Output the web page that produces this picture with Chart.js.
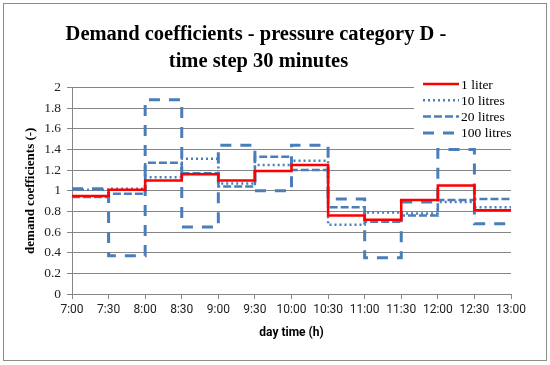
<!DOCTYPE html>
<html lang="en">

<head>
    <meta charset="UTF-8">
    <title>Demand coefficients</title>
    <script src="https://cdn.jsdelivr.net/npm/chart.js"></script>
    <style>
        body {
            margin: 0;
            background-color: #ffffff;
        }

        .chart-box {
            width: 550px;
            height: 365px;
            position: relative;
        }
    </style>
</head>

<body>

    <div class="chart-box">
        <canvas id="demandChart"></canvas>
    </div>

    <script>
        // half-hour steps, value holds until next label
        const timeLabels = ['7:00', '7:30', '8:00', '8:30', '9:00', '9:30', '10:00', '10:30', '11:00', '11:30', '12:00', '12:30', '13:00'];
        const liter1 = [0.95, 1.01, 1.10, 1.16, 1.10, 1.19, 1.25, 0.76, 0.72, 0.91, 1.05, 0.81];
        const litres10 = [1.01, 1.02, 1.13, 1.31, 1.07, 1.25, 1.29, 0.67, 0.79, 0.78, 0.89, 0.84];
        const litres20 = [0.94, 0.97, 1.27, 1.17, 1.04, 1.33, 1.20, 0.84, 0.70, 0.76, 0.91, 0.92];
        const litres100 = [1.02, 0.37, 1.88, 0.65, 1.44, 1.00, 1.44, 0.92, 0.35, 0.89, 1.40, 0.68];
        const seriesNames = ['1 liter', '10 litres', '20 litres', '100 litres'];

        const blue = '#4a7ebb';

        // repeat the last value so the final step reaches 13:00
        function stepData(arr) {
            return arr.concat([arr[arr.length - 1]]);
        }

        function makeSet(label, data, color, width, dash) {
            return {
                label: label,
                data: stepData(data),
                borderColor: color,
                borderWidth: width,
                borderDash: dash,
                borderCapStyle: 'butt',
                stepped: true,
                pointRadius: 0,
                fill: false
            };
        }

        const frame = {
            id: 'frame',
            afterDraw(chart) {
                const ctx = chart.ctx;
                ctx.save();
                ctx.strokeStyle = '#8c8c8c';
                ctx.lineWidth = 1;
                ctx.strokeRect(3.5, 3.5, 543, 357);
                ctx.restore();
            }
        };

        const boxLegend = {
            id: 'boxLegend',
            afterDatasetsDraw(chart) {
                const ctx = chart.ctx;
                ctx.save();
                ctx.fillStyle = '#ffffff';
                ctx.fillRect(414, 74, 128, 67);
                chart.data.datasets.forEach(function (ds, i) {
                    const y = 84 + i * 16.3;
                    ctx.beginPath();
                    ctx.strokeStyle = ds.borderColor;
                    ctx.lineWidth = ds.borderWidth;
                    ctx.setLineDash(ds.borderDash);
                    ctx.moveTo(423, y);
                    ctx.lineTo(459, y);
                    ctx.stroke();
                    ctx.setLineDash([]);
                    ctx.fillStyle = '#000';
                    ctx.font = '13.5px "Liberation Serif"';
                    ctx.textBaseline = 'middle';
                    ctx.fillText(ds.label, 461, y + 1);
                });
                ctx.restore();
            }
        };

        new Chart(document.getElementById('demandChart'), {
            type: 'line',
            data: {
                labels: timeLabels,
                datasets: [
                    makeSet(seriesNames[0], liter1, '#ff0000', 2.5, []),
                    makeSet(seriesNames[1], litres10, blue, 2.5, [2, 3]),
                    makeSet(seriesNames[2], litres20, blue, 2.5, [8, 3]),
                    makeSet(seriesNames[3], litres100, blue, 3, [11, 9])
                ]
            },
            options: {
                responsive: true,
                maintainAspectRatio: false,
                animation: false,
                layout: {
                    padding: { left: 6, right: 39, top: 0, bottom: 25 }
                },
                plugins: {
                    legend: { display: false },
                    tooltip: { enabled: false },
                    title: {
                        display: true,
                        text: ['Demand coefficients - pressure category D - ', 'time step 30 minutes'],
                        color: '#000',
                        font: { family: '"Liberation Serif"', size: 20.5, weight: 'bold', lineHeight: 1.28 },
                        padding: { top: 22, bottom: 13 }
                    }
                },
                scales: {
                    x: {
                        offset: false,
                        grid: { drawOnChartArea: false, color: '#868686', tickLength: 5 },
                        border: { color: '#868686' },
                        ticks: {
                            color: '#222',
                            font: { family: 'Roboto', size: 12 },
                            maxRotation: 0,
                            autoSkip: false,
                            padding: 4
                        },
                        title: {
                            display: true,
                            text: 'day time (h)',
                            color: '#000',
                            font: { family: 'Roboto', size: 12, weight: 'bold' },
                            padding: { top: 2, bottom: 0 }
                        },
                        afterFit(scale) { scale.height = 46; }
                    },
                    y: {
                        min: 0,
                        max: 2,
                        ticks: {
                            stepSize: 0.2,
                            color: '#222',
                            font: { family: '"Liberation Serif"', size: 13.5 },
                            padding: 6,
                            callback: v => String(Math.round(v * 10) / 10)
                        },
                        grid: { color: '#868686', tickLength: 5 },
                        border: { color: '#868686' },
                        title: {
                            display: true,
                            text: 'demand coefficients (-)',
                            color: '#000',
                            font: { family: '"Liberation Serif"', size: 13, weight: 'bold' },
                            padding: { top: 17, bottom: 0 }
                        },
                        afterFit(scale) { scale.width = 66; }
                    }
                }
            },
            plugins: [boxLegend, frame]
        });
    </script>

</body>

</html>
